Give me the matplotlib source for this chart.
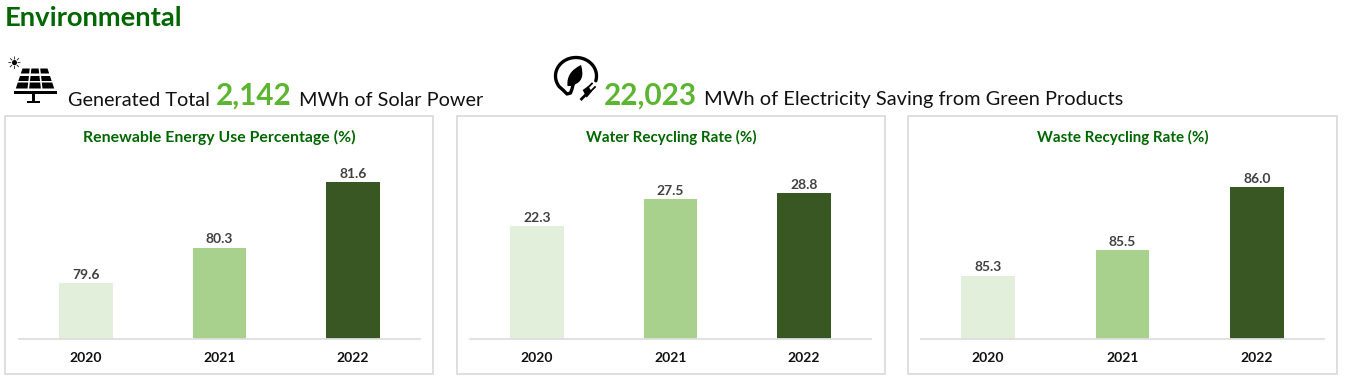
import numpy as np
import matplotlib
matplotlib.use('Agg')
import matplotlib.pyplot as plt
from matplotlib.patches import Polygon, Rectangle, PathPatch
from matplotlib.path import Path

plt.rcParams['font.family'] = ['Lato', 'DejaVu Sans']

years = ['2020', '2021', '2022']
titles = ['Renewable Energy Use Percentage (%)', 'Water Recycling Rate (%)', 'Waste Recycling Rate (%)']
renewable = [79.6, 80.3, 81.6]
water = [22.3, 27.5, 28.8]
waste = [85.3, 85.5, 86.0]
all_values = [renewable, water, waste]
y_limits = [(78.49, 82.13), (0, 36.2), (84.8, 86.25)]
bar_colors = ['#E2EFDA', '#A9D18E', '#385723']

W, H = 1345, 382
dark_green = '#006600'
light_green = '#5CB531'

fig = plt.figure(figsize=(W / 100, H / 100), dpi=100, facecolor='white')

# overlay in pixel coordinates for the text, cards and icons
bg = fig.add_axes([0, 0, 1, 1])
bg.set_xlim(0, W)
bg.set_ylim(H, 0)
bg.axis('off')

# x0, x1 of card and of plot area
cards = [(5, 433, 19, 420), (457, 884.5, 470, 871), (907.5, 1336.5, 921, 1324)]
title_sizes = [11.45, 10.9, 10.9]

bg.text(5, 18, 'Environmental', fontsize=19.7, fontweight='bold', color=dark_green, va='center')

# headline rows
bg.text(68, 100, 'Generated Total', fontsize=14.3, color='#111111', va='center')
bg.text(216, 96, '2,142', fontsize=21.3, fontweight='bold', color=light_green, va='center')
bg.text(299, 100, 'MWh of Solar Power', fontsize=14.3, color='#111111', va='center')
bg.text(604, 96, '22,023', fontsize=21.3, fontweight='bold', color=light_green, va='center')
bg.text(704, 100, 'MWh of Electricity Saving from Green Products', fontsize=14.4, color='#111111', va='center')

# solar panel icon
bg.text(14, 64, '\u2600', fontsize=12, color='black', ha='center', va='center', family='DejaVu Sans')
rows = [(68.5, 73.5), (76, 81), (82.5, 88.5)]


def panel_x(y, k):
    half = 13.3 + (y - 68.5) * 0.335
    return 35 - half + 2 * half * k / 3


for top, bot in rows:
    for i in range(3):
        bg.add_patch(Polygon([(panel_x(top, i) + 0.8, top), (panel_x(top, i + 1) - 0.8, top),
                              (panel_x(bot, i + 1) - 0.8, bot), (panel_x(bot, i) + 0.8, bot)],
                             closed=True, fc='black', ec='none'))
bg.add_patch(Rectangle((14, 90.7), 42.7, 3.3, fc='black', ec='none'))
bg.add_patch(Rectangle((32, 94), 3, 8, fc='black', ec='none'))
bg.add_patch(Rectangle((26.7, 100.5), 13.3, 2.5, fc='black', ec='none'))

# leaf and plug icon
t = np.radians(np.linspace(-15, 215, 80))
ring_x = list(576 + 20.5 * np.cos(t))
ring_y = list(76 - 18.5 * np.sin(t))
ring_x += [563, 567, 570.5, 572, 573.5]
ring_y += [90, 94, 93, 89, 83]
bg.plot(ring_x, ring_y, color='black', lw=2.4, solid_capstyle='round')
leaf = Path([(581, 65), (566, 72), (567.5, 86), (571, 86), (573.5, 85), (586, 81), (581, 65)],
            [Path.MOVETO, Path.CURVE3, Path.CURVE3, Path.LINETO, Path.LINETO, Path.CURVE3, Path.CURVE3])
bg.add_patch(PathPatch(leaf, fc='black', ec='none'))
bg.add_patch(Polygon([(582.7, 90), (588.3, 86), (591.7, 91.7), (586.7, 97.7)], closed=True, fc='black', ec='none'))
bg.plot([588, 592], [87.5, 83.5], color='black', lw=1.3)
bg.plot([591, 595], [91, 87], color='black', lw=1.3)
bg.plot([585, 581.5], [95.5, 99], color='black', lw=2)

for (cx0, cx1, ax0, ax1), title, values, lim, tsize in zip(cards, titles, all_values, y_limits, title_sizes):
    bg.add_patch(Rectangle((cx0, 115.5), cx1 - cx0, 258.5, fc='white', ec='#D9D9D9', lw=1.2))
    ax = fig.add_axes([ax0 / W, 1 - 339 / H, (ax1 - ax0) / W, 184 / H])
    ax.patch.set_alpha(0)
    x = range(len(years))
    bars = ax.bar(x, values, width=0.4, color=bar_colors, bottom=0)
    ax.set_xlim(-0.5, 2.5)
    ax.set_ylim(*lim)
    ax.set_yticks([])
    ax.set_xticks(list(x))
    ax.set_xticklabels(years, fontsize=10, fontweight='bold', color='#111111')
    ax.tick_params(axis='x', length=0, pad=9.5)
    for s in ['top', 'left', 'right']:
        ax.spines[s].set_visible(False)
    ax.spines['bottom'].set_color('#DEDEDE')
    ax.spines['bottom'].set_linewidth(1.3)
    for b, v in zip(bars, values):
        ax.annotate('%.1f' % v, (b.get_x() + b.get_width() / 2, v), xytext=(0, 1.5),
                    textcoords='offset points', ha='center', va='bottom',
                    fontsize=10, fontweight='bold', color='#404040')
    bg.text((cx0 + cx1) / 2 + 0.5, 137, title, fontsize=tsize, fontweight='bold', color=dark_green,
            ha='center', va='center')

fig.savefig('out.png', dpi=100)
